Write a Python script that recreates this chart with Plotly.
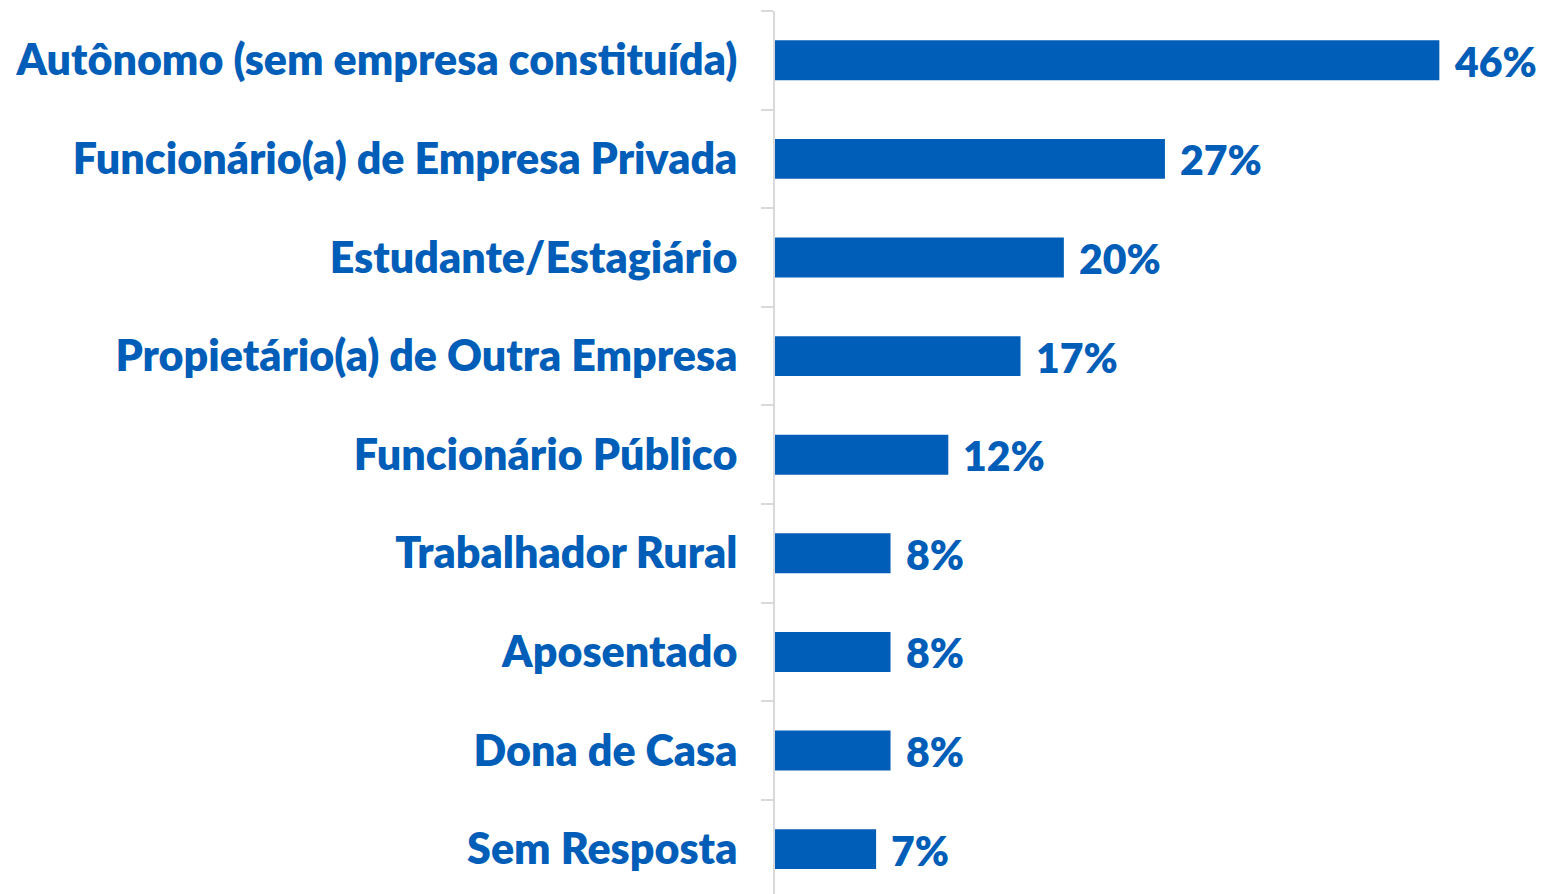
import plotly.graph_objects as go

categories = [
    "Autônomo (sem empresa constituída)",
    "Funcionário(a) de Empresa Privada",
    "Estudante/Estagiário",
    "Propietário(a) de Outra Empresa",
    "Funcionário Público",
    "Trabalhador Rural",
    "Aposentado",
    "Dona de Casa",
    "Sem Resposta",
]
values = [46, 27, 20, 17, 12, 8, 8, 8, 7]
value_labels = ["46%", "27%", "20%", "17%", "12%", "8%", "8%", "8%", "7%"]

BLUE = "#005EB8"
FONT = "Lato"

fig = go.Figure(
    go.Bar(
        y=categories,
        x=values,
        orientation="h",
        marker=dict(color=BLUE, line=dict(width=0)),
        width=0.405,
        hoverinfo="skip",
    )
)

for c, v, t in zip(categories, values, value_labels):
    fig.add_annotation(
        x=v, y=c, text=t, xanchor="left", yanchor="middle", xshift=13, yshift=-1,
        showarrow=False, font=dict(family=FONT, size=41, color=BLUE, weight=800),
    )

fig.update_layout(
    width=1531,
    height=886,
    margin=dict(l=767, r=0, t=3, b=0),
    paper_bgcolor="white",
    plot_bgcolor="white",
    showlegend=False,
    xaxis=dict(range=[0, 52.9], visible=False, fixedrange=True),
    yaxis=dict(
        type="category",
        categoryorder="array",
        categoryarray=categories,
        autorange=False,
        range=[8.455, -0.5],
        showline=True,
        linecolor="#D9D9D9",
        linewidth=2,
        ticks="outside",
        tickson="boundaries",
        ticklen=12,
        tickwidth=2,
        tickcolor="#D9D9D9",
        showgrid=False,
        ticklabelstandoff=27,
        tickfont=dict(family=FONT, size=43, color=BLUE, weight=800),
        fixedrange=True,
        automargin=False,
    ),
)

fig.write_html("out.html")
